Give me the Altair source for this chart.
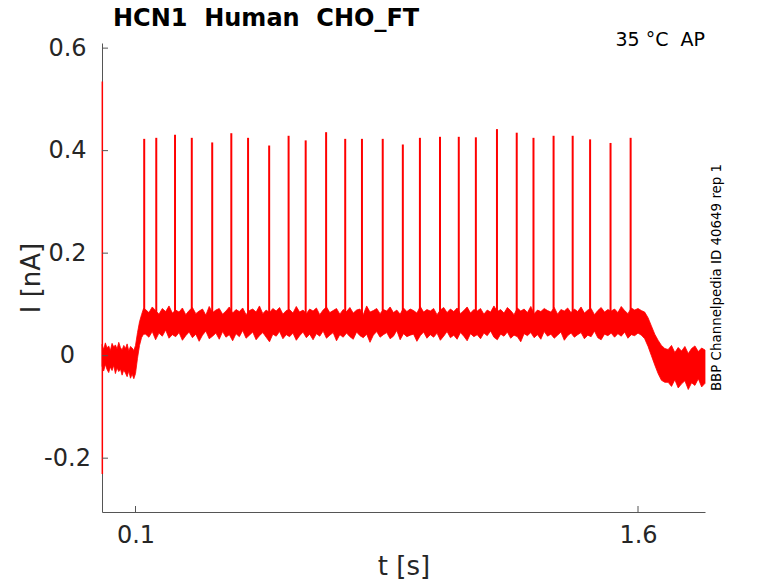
import altair as alt
import pandas as pd

# ---- data ----
# noise envelope of the current trace, segment by segment (time s, upper nA, lower nA)
pre_t = [0.000, 0.005, 0.010, 0.015, 0.020, 0.025, 0.030, 0.035, 0.040, 0.045,
         0.050, 0.055, 0.060, 0.065, 0.070, 0.075, 0.080, 0.085, 0.090, 0.095]
pre_hi = [0.022, 0.012, 0.025, 0.015, 0.019, 0.010, 0.024, 0.017, 0.021, 0.013,
          0.026, 0.016, 0.011, 0.020, 0.014, 0.023, 0.009, 0.018, 0.015, 0.010]
pre_lo = [-0.020, -0.030, -0.017, -0.027, -0.033, -0.022, -0.029, -0.019, -0.035, -0.024,
          -0.031, -0.026, -0.038, -0.028, -0.034, -0.041, -0.030, -0.044, -0.036, -0.045]

rise_t = [0.100, 0.106, 0.112, 0.118, 0.124]
rise_hi = [0.020, 0.045, 0.066, 0.080, 0.092]
rise_lo = [-0.035, -0.005, 0.020, 0.035, 0.042]

plat_t = [round(0.13 + 0.01 * i, 2) for i in range(148)]  # sampling grid 0.13 ... 1.60 s
plat_hi = [0.090, 0.084, 0.095, 0.088, 0.081, 0.092, 0.086, 0.097, 0.083, 0.089,
           0.085, 0.093, 0.080, 0.088, 0.094, 0.082, 0.087, 0.091, 0.079, 0.096,
           0.084, 0.089, 0.092, 0.081, 0.087, 0.095, 0.083, 0.090, 0.086, 0.093,
           0.080, 0.088, 0.091, 0.085, 0.097, 0.082, 0.089, 0.084, 0.092, 0.087,
           0.094, 0.081, 0.088, 0.090, 0.083, 0.096, 0.085, 0.089, 0.082, 0.091,
           0.087, 0.093, 0.080, 0.089, 0.095, 0.084, 0.088, 0.092, 0.081, 0.090,
           0.086, 0.094, 0.083, 0.089, 0.091, 0.080, 0.097, 0.085, 0.088, 0.092,
           0.082, 0.090, 0.087, 0.095, 0.084, 0.089, 0.081, 0.093, 0.086, 0.091,
           0.088, 0.083, 0.096, 0.085, 0.090, 0.087, 0.092, 0.080, 0.089, 0.094,
           0.084, 0.091, 0.086, 0.093, 0.082, 0.088, 0.095, 0.083, 0.090, 0.087,
           0.092, 0.081, 0.089, 0.085, 0.097, 0.086, 0.090, 0.083, 0.094, 0.088,
           0.080, 0.093, 0.087, 0.091, 0.084, 0.096, 0.082, 0.089, 0.086, 0.092,
           0.088, 0.085, 0.094, 0.081, 0.090, 0.087, 0.093, 0.084, 0.091, 0.086,
           0.095, 0.083, 0.089, 0.092, 0.080, 0.088, 0.094, 0.085, 0.090, 0.087,
           0.091, 0.084, 0.096, 0.088, 0.082, 0.093, 0.089, 0.092]
plat_lo = [0.042, 0.036, 0.047, 0.031, 0.044, 0.038, 0.050, 0.034, 0.041, 0.037,
           0.045, 0.030, 0.039, 0.046, 0.035, 0.042, 0.028, 0.040, 0.048, 0.033,
           0.038, 0.044, 0.032, 0.047, 0.036, 0.041, 0.029, 0.043, 0.037, 0.049,
           0.034, 0.040, 0.046, 0.031, 0.039, 0.045, 0.036, 0.027, 0.042, 0.038,
           0.047, 0.033, 0.041, 0.037, 0.044, 0.030, 0.039, 0.046, 0.035, 0.042,
           0.031, 0.043, 0.038, 0.048, 0.034, 0.040, 0.045, 0.029, 0.041, 0.036,
           0.044, 0.037, 0.032, 0.046, 0.039, 0.035, 0.042, 0.026, 0.040, 0.047,
           0.036, 0.041, 0.045, 0.033, 0.038, 0.049, 0.031, 0.043, 0.037, 0.040,
           0.042, 0.028, 0.039, 0.046, 0.034, 0.041, 0.036, 0.044, 0.030, 0.038,
           0.047, 0.035, 0.040, 0.032, 0.045, 0.038, 0.029, 0.043, 0.037, 0.041,
           0.033, 0.044, 0.039, 0.048, 0.036, 0.031, 0.042, 0.038, 0.046, 0.034,
           0.040, 0.037, 0.027, 0.043, 0.039, 0.045, 0.035, 0.041, 0.032, 0.047,
           0.038, 0.042, 0.034, 0.040, 0.046, 0.030, 0.039, 0.044, 0.036, 0.041,
           0.045, 0.033, 0.040, 0.037, 0.048, 0.035, 0.031, 0.042, 0.039, 0.044,
           0.036, 0.043, 0.038, 0.046, 0.034, 0.041, 0.039, 0.044]

decay_t = [1.61, 1.62, 1.63, 1.64, 1.65, 1.66, 1.67, 1.68]
decay_hi = [0.088, 0.085, 0.074, 0.058, 0.042, 0.030, 0.020, 0.014]
decay_lo = [0.040, 0.033, 0.018, 0.000, -0.018, -0.035, -0.048, -0.052]

post_t = [1.69, 1.70, 1.71, 1.72, 1.73, 1.74, 1.75, 1.76, 1.77, 1.78, 1.79, 1.80]
post_hi = [0.012, 0.020, 0.006, 0.016, 0.009, 0.018, 0.004, 0.014, 0.019, 0.008, 0.015, 0.011]
post_lo = [-0.052, -0.060, -0.047, -0.063, -0.055, -0.049, -0.066, -0.053, -0.058, -0.045, -0.061, -0.054]

# action-potential spikes (time s, peak nA)
spike_t = [0.126, 0.162, 0.218, 0.268, 0.329, 0.386, 0.436, 0.499, 0.557,
           0.608, 0.669, 0.726, 0.776, 0.838, 0.898, 0.949, 1.009, 1.065,
           1.116, 1.179, 1.238, 1.288, 1.348, 1.405, 1.457, 1.518, 1.578]
spike_peak = [0.423, 0.425, 0.431, 0.425, 0.416, 0.434, 0.425, 0.410, 0.429,
              0.420, 0.436, 0.423, 0.423, 0.423, 0.412, 0.425, 0.427, 0.427,
              0.426, 0.442, 0.435, 0.425, 0.429, 0.429, 0.422, 0.415, 0.425]
spike_base = 0.07

# capacitive transient at the start
transient_t = [0.001]
transient_lo = [-0.231]
transient_hi = [0.535]

x_ticks = [0.1, 1.6]
y_ticks = [-0.2, 0.0, 0.2, 0.4, 0.6]

title_text = "HCN1\u00a0 Human\u00a0 CHO_FT"
cond_text = "35 °C\u00a0 AP"
side_text = "BBP Channelpedia ID 40649 rep 1"

# ---- chart ----
RED = "#ff0000"
AX = "#555555"
LAB = "#262626"
FONT = "DejaVu Sans"
W, H = 603, 469

xscale = alt.Scale(domain=[0, 1.8], nice=False, zero=False)
yscale = alt.Scale(domain=[-0.305, 0.61], nice=False, zero=False)

xaxis = alt.Axis(values=x_ticks, format=".1f", title="t [s]", grid=False, ticks=False,
                 domainColor=AX, domainWidth=1, labelFontSize=24, labelColor=LAB,
                 labelFont=FONT, labelPadding=11, labelBaseline="top",
                 titleFont=FONT, titleFontSize=26, titleFontWeight="normal",
                 titleColor=LAB, titleX=W / 2, titleY=54, titleAlign="center",
                 titleBaseline="middle")
yaxis = alt.Axis(values=y_ticks,
                 labelExpr="datum.value == 0 ? '0' : (datum.value < 0 ? '-' : '') + format(abs(datum.value), '.1f')",
                 title="I [nA]", grid=False, ticks=False, domainColor=AX, domainWidth=1,
                 labelFontSize=24, labelColor=LAB, labelFont=FONT, labelAlign="center",
                 labelPadding=35, labelBaseline="middle",
                 titleFont=FONT, titleFontSize=26, titleFontWeight="normal",
                 titleColor=LAB, titleX=-71, titleY=H / 2, titleAngle=270,
                 titleAlign="center", titleBaseline="middle")

band_df = pd.DataFrame({
    "t": pre_t + rise_t + plat_t + decay_t + post_t,
    "hi": pre_hi + rise_hi + plat_hi + decay_hi + post_hi,
    "lo": pre_lo + rise_lo + plat_lo + decay_lo + post_lo,
})
spike_df = pd.DataFrame({"t": spike_t, "base": [spike_base] * len(spike_t), "peak": spike_peak})
trans_df = pd.DataFrame({"t": transient_t, "lo": transient_lo, "hi": transient_hi})

X = alt.X("t:Q", scale=xscale, axis=xaxis)

band = alt.Chart(band_df).mark_area(color=RED, opacity=1, stroke=RED, strokeWidth=0.8).encode(
    x=X,
    y=alt.Y("lo:Q", scale=yscale, axis=yaxis),
    y2="hi:Q",
)
spikes = alt.Chart(spike_df).mark_rule(color=RED, strokeWidth=2).encode(
    x=X,
    y=alt.Y("base:Q", scale=yscale, axis=yaxis),
    y2="peak:Q",
)
trans = alt.Chart(trans_df).mark_rule(color=RED, strokeWidth=1.5).encode(
    x=X,
    y=alt.Y("lo:Q", scale=yscale, axis=yaxis),
    y2="hi:Q",
)
ytk = alt.Chart(pd.DataFrame({"v": y_ticks})).mark_rule(color=AX, strokeWidth=1).encode(
    y=alt.Y("v:Q", scale=yscale, axis=yaxis),
    x=alt.value(0), x2=alt.value(6),
)
xtk = alt.Chart(pd.DataFrame({"t": x_ticks})).mark_rule(color=AX, strokeWidth=1).encode(
    x=X,
    y=alt.value(H), y2=alt.value(H - 6),
)
title = alt.Chart(pd.DataFrame({"s": [title_text]})).mark_text(
    align="left", baseline="alphabetic", fontSize=24, fontWeight="bold", font=FONT, color="black"
).encode(text="s:N", x=alt.value(11), y=alt.value(-17))
cond = alt.Chart(pd.DataFrame({"s": [cond_text]})).mark_text(
    align="right", baseline="middle", fontSize=19, font=FONT, color="black"
).encode(text="s:N", x=alt.value(W), y=alt.value(-3))
side = alt.Chart(pd.DataFrame({"s": [side_text]})).mark_text(
    align="center", baseline="middle", fontSize=13.4, font=FONT, color="black", angle=270
).encode(text="s:N", x=alt.value(W + 12), y=alt.value(H / 2))

chart = alt.layer(band, spikes, trans, ytk, xtk, title, cond, side).properties(
    width=W, height=H,
    padding={"left": 94, "top": 35, "right": 65, "bottom": 70},
    autosize=alt.AutoSizeParams(type="none"),
).configure_view(stroke=None)

chart.save("out.html", embed_options={"renderer": "svg", "actions": False})
